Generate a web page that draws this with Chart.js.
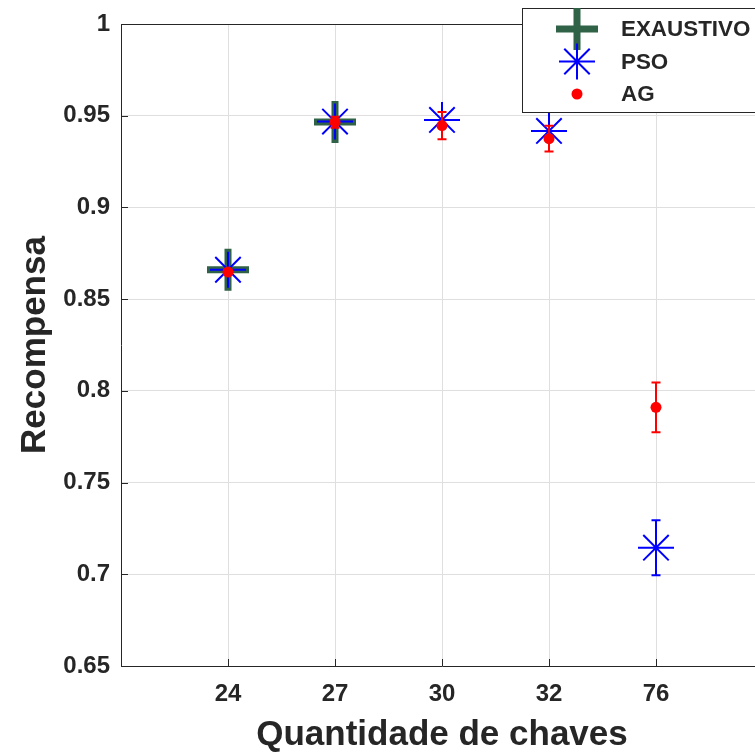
<!DOCTYPE html>
<html><head><meta charset="utf-8">
<script src="https://cdn.jsdelivr.net/npm/chart.js@4/dist/chart.umd.min.js"></script>
<style>html,body{margin:0;padding:0;overflow:hidden;background:#fff}#wrap{position:relative;width:780px;height:756px}canvas{display:block}</style>
</head><body><div id="wrap"><canvas id="c"></canvas></div>
<script>
// ---- data ----
const categories = ['24', '27', '30', '32', '76'];
const categoryIndex = [1, 2, 3, 4, 5];
const exaustivoIndex = [1, 2];
const exaustivoValues = [0.866, 0.9466];
const psoValues = [0.866, 0.9468, 0.9477, 0.9417, 0.7145];
const psoErrors = [0, 0, 0, 0, 0.015];
const agValues = [0.8648, 0.9465, 0.9446, 0.9375, 0.791];
const agErrors = [0, 0.003, 0.0074, 0.007, 0.0135];
const seriesNames = ['EXAUSTIVO', 'PSO', 'AG'];
const yTickMin = 0.65, yTickMax = 1, yTickStep = 0.05;

const FONT = '"Liberation Sans", Arial, Helvetica, sans-serif';
const TXT = '#262626';
const GREEN = '#2f6247';
const BLUE = '#0000ff';
const RED = '#ff0000';

const pts = (xs, ys) => xs.map((x, i) => ({x, y: ys[i]}));

function drawMarker(ctx, style, x, y) {
  ctx.save();
  if (style === 'plus') {
    ctx.strokeStyle = GREEN; ctx.lineWidth = 7; ctx.lineCap = 'butt';
    ctx.beginPath();
    ctx.moveTo(x - 21, y); ctx.lineTo(x + 21, y);
    ctx.moveTo(x, y - 21); ctx.lineTo(x, y + 21);
    ctx.stroke();
  } else if (style === 'star') {
    ctx.strokeStyle = BLUE; ctx.lineWidth = 2;
    ctx.beginPath();
    for (let k = 0; k < 4; k++) {
      const a = k * Math.PI / 4;
      ctx.moveTo(x - 18 * Math.cos(a), y - 18 * Math.sin(a));
      ctx.lineTo(x + 18 * Math.cos(a), y + 18 * Math.sin(a));
    }
    ctx.stroke();
  } else {
    ctx.fillStyle = RED;
    ctx.beginPath(); ctx.arc(x, y, 5.5, 0, Math.PI * 2); ctx.fill();
  }
  ctx.restore();
}

const decor = {
  id: 'decor',
  afterDatasetsDraw(chart) {
    const {ctx, scales: {x, y}} = chart;
    const bars = [[psoValues, psoErrors, BLUE], [agValues, agErrors, RED]];
    ctx.save();
    ctx.lineWidth = 2;
    bars.forEach(([vals, errs, col]) => {
      ctx.strokeStyle = col;
      vals.forEach((v, i) => {
        if (!errs[i]) return;
        const px = x.getPixelForValue(categoryIndex[i]);
        const p1 = y.getPixelForValue(v + errs[i]);
        const p2 = y.getPixelForValue(v - errs[i]);
        ctx.beginPath();
        ctx.moveTo(px, p1); ctx.lineTo(px, p2);
        ctx.moveTo(px - 4.5, p1); ctx.lineTo(px + 4.5, p1);
        ctx.moveTo(px - 4.5, p2); ctx.lineTo(px + 4.5, p2);
        ctx.stroke();
      });
    });
    ctx.restore();
  },
  afterDraw(chart) {
    const {ctx, chartArea: a, scales: {x, y}} = chart;
    ctx.save();
    ctx.strokeStyle = TXT; ctx.lineWidth = 1;
    ctx.beginPath();
    ctx.moveTo(a.left, Math.round(a.top) + 0.5); ctx.lineTo(a.right, Math.round(a.top) + 0.5);
    ctx.moveTo(Math.round(a.right) - 0.5, a.top); ctx.lineTo(Math.round(a.right) - 0.5, a.bottom);
    y.ticks.forEach(t => {
      const py = Math.round(y.getPixelForValue(t.value)) + 0.5;
      ctx.moveTo(a.left, py); ctx.lineTo(a.left + 7, py);
    });
    categoryIndex.forEach(v => {
      const px = Math.round(x.getPixelForValue(v)) + 0.5;
      ctx.moveTo(px, a.bottom); ctx.lineTo(px, a.bottom - 7);
    });
    ctx.stroke();
    const lx = 522.5, ly = 8.5, lw = 300, lh = 104;
    ctx.fillStyle = '#fff';
    ctx.fillRect(lx, ly, lw, lh);
    ctx.strokeStyle = TXT; ctx.lineWidth = 1;
    ctx.strokeRect(lx, ly, lw, lh);
    const styles = ['plus', 'star', 'dot'];
    const rows = [29, 61.5, 94];
    ctx.font = 'bold 22.4px ' + FONT;
    ctx.textBaseline = 'middle'; ctx.textAlign = 'left';
    seriesNames.forEach((n, i) => {
      drawMarker(ctx, styles[i], 577, rows[i]);
      ctx.fillStyle = TXT;
      ctx.fillText(n, 621, rows[i] + 1);
    });
    ctx.restore();
  }
};

const chart = new Chart(document.getElementById('c'), {
  type: 'scatter',
  data: {
    datasets: [
      {label: seriesNames[2], data: pts(categoryIndex, agValues), order: 0,
       pointStyle: 'circle', pointRadius: 5.5, pointBackgroundColor: RED, pointBorderWidth: 0, pointBorderColor: RED},
      {label: seriesNames[1], data: pts(categoryIndex, psoValues), order: 1,
       pointStyle: 'star', pointRadius: 18, pointBorderWidth: 2, pointBorderColor: BLUE, pointBackgroundColor: BLUE},
      {label: seriesNames[0], data: pts(exaustivoIndex, exaustivoValues), order: 2,
       pointStyle: 'cross', pointRadius: 21, pointBorderWidth: 7, pointBorderColor: GREEN, pointBackgroundColor: GREEN}
    ]
  },
  options: {
    responsive: true, maintainAspectRatio: false, animation: false, devicePixelRatio: 1,
    layout: {autoPadding: false, padding: {top: 24, right: 17, left: 0, bottom: 0}},
    plugins: {legend: {display: false}, tooltip: {enabled: false}},
    scales: {
      x: {
        type: 'linear', min: 0, max: 6,
        afterFit: s => { s.height = 90; s.paddingLeft = 0; s.paddingRight = 0; },
        border: {display: true, color: TXT, width: 1},
        grid: {drawTicks: false, color: c => (c.tick && (c.tick.value === 0 || c.tick.value === 6)) ? 'rgba(0,0,0,0)' : '#dfdfdf'},
        ticks: {stepSize: 1, autoSkip: false, maxRotation: 0, padding: 14, color: TXT,
                font: {family: FONT, size: 24, weight: 'bold'},
                callback: v => categories[categoryIndex.indexOf(v)] ?? ''},
        title: {display: true, text: 'Quantidade de chaves', color: TXT,
                font: {family: FONT, size: 35, weight: 'bold'}, padding: {top: 0, bottom: 0}}
      },
      y: {
        min: yTickMin, max: yTickMax,
        afterFit: s => { s.width = 121; s.paddingTop = 0; s.paddingBottom = 0; },
        border: {display: true, color: TXT, width: 1},
        grid: {drawTicks: false, color: '#dfdfdf'},
        ticks: {stepSize: yTickStep, padding: 11, color: TXT,
                font: {family: FONT, size: 24, weight: 'bold'},
                callback: v => String(+v.toFixed(2))},
        title: {display: true, text: 'Recompensa', color: TXT,
                font: {family: FONT, size: 35, weight: 'bold'}, padding: {top: 14, bottom: 0}}
      }
    }
  },
  plugins: [decor]
});
</script>
</body></html>
